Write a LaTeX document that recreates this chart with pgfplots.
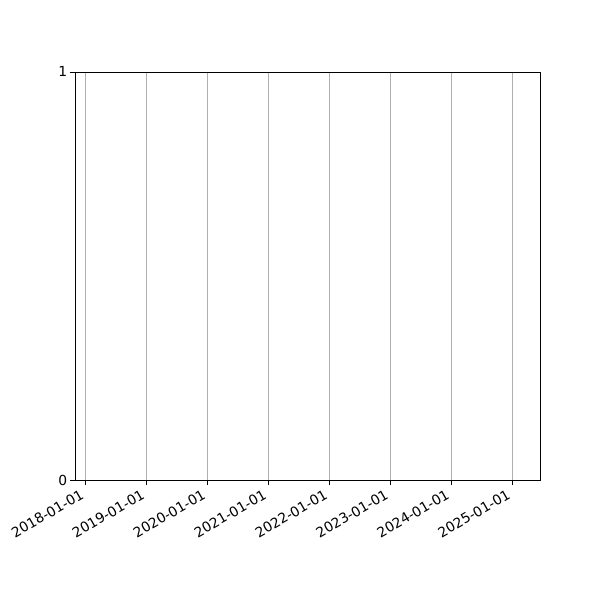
\documentclass[border=0pt]{standalone}
\usepackage{fontspec}
\setmainfont{DejaVu Sans}
\usepackage{pgfplots}
\pgfplotsset{compat=1.18}
\begin{document}
\begin{tikzpicture}
\begin{axis}[
  scale only axis,
  width=336.1pt, height=294.9pt,
  at={(0,0)}, anchor=south west,
  xmin=-0.172, xmax=7.46,
  ymin=0, ymax=1,
  xtick={0,1,2,3,4,5,6,7},
  xticklabels={2018-01-01,2019-01-01,2020-01-01,2021-01-01,2022-01-01,2023-01-01,2024-01-01,2025-01-01},
  ytick={0,1},
  xmajorgrids,
  grid style={color=black!31, line width=0.6pt},
  axis line style={line width=0.6pt},
  tick style={black, line width=0.6pt},
  tick align=outside,
  major tick length=3.5pt,
  xtick pos=bottom, ytick pos=left,
  tick label style={font=\fontsize{10}{12}\selectfont},
  xticklabel style={xshift=-3.5pt, rotate=30, anchor=north east, inner sep=2pt},
  yticklabel style={inner sep=2pt},
  /pgf/number format/assume math mode=true,
]
\addplot[draw=none] coordinates {(0,0)};
\end{axis}
\pgfresetboundingbox
\path[use as bounding box] (-54.2pt,-86.7pt) rectangle (379.4pt,346.9pt);
\end{tikzpicture}
\end{document}
